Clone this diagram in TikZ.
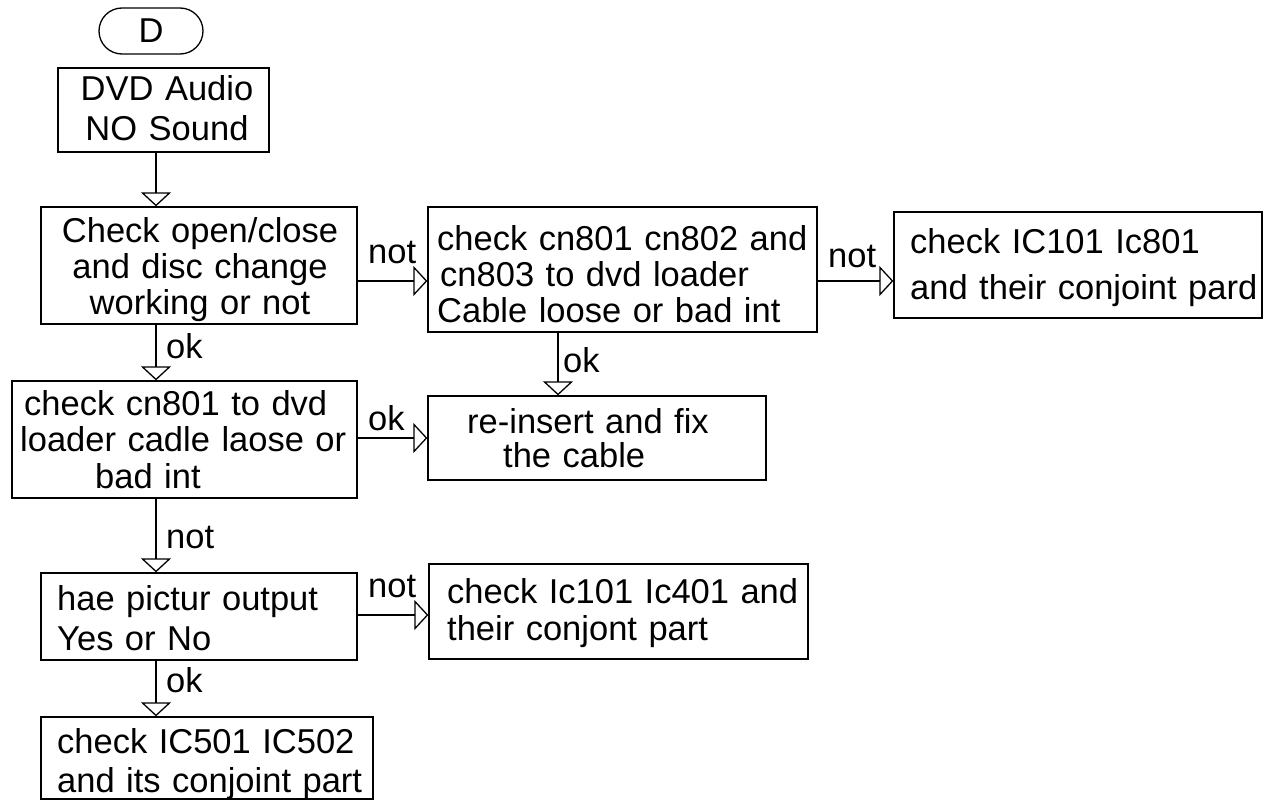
\documentclass[tikz,border=0pt]{standalone}
\usepackage{fontspec}
\setmainfont{Liberation Sans}
\usetikzlibrary{arrows.meta}
\begin{document}
\begin{tikzpicture}[x=1pt,y=-1pt,
  box/.style={draw, line width=1.3pt, inner sep=0pt},
  term/.style={draw, line width=1.3pt, inner sep=0pt, rounded corners=23pt},
  txt/.style={inner sep=0pt, anchor=base west, align=left, text width=#1},
  ctxt/.style={inner sep=0pt, anchor=base, align=center, text width=#1},
  lbl/.style={inner sep=0pt, anchor=base west},
  arr/.style={line width=1.3pt, -{Triangle[open,width=30pt,length=14pt,line width=1.3pt]}},
  font=\fontsize{34.5}{37}\selectfont]
\useasboundingbox (0,0) rectangle (1264,800);

% boxes
\node[term, minimum width=104pt, minimum height=46pt] (D) at (151,31) {D};
\node[box, minimum width=211pt, minimum height=84pt] (B1) at (163.5,110) {};
\node[box, minimum width=316pt, minimum height=117pt] (B2) at (199,265.5) {};
\node[box, minimum width=389pt, minimum height=125pt] (B3) at (622.5,269.5) {};
\node[box, minimum width=368pt, minimum height=106pt] (B9) at (1078,265) {};
\node[box, minimum width=345pt, minimum height=117pt] (B5) at (184.5,439.5) {};
\node[box, minimum width=338pt, minimum height=84pt] (B4) at (597,438) {};
\node[box, minimum width=316pt, minimum height=87pt] (B6) at (199,616.5) {};
\node[box, minimum width=379pt, minimum height=95pt] (B7) at (618.5,611.5) {};
\node[box, minimum width=332pt, minimum height=82pt] (B8) at (207,758) {};

% texts
\node[ctxt=200pt, font=\fontsize{34.5}{40}\selectfont] (T1) at (167,100) {DVD Audio\\NO Sound};
\node[ctxt=300pt, font=\fontsize{34.5}{36}\selectfont] (T2) at (200,242) {Check open/close\\and disc change\\working or not};
\node[txt=380pt, font=\fontsize{34.5}{36}\selectfont] (T3) at (437,250) {check cn801 cn802 and\\\hspace*{3pt}cn803 to dvd loader\\Cable loose or bad int};
\node[txt=360pt, font=\fontsize{34.5}{46}\selectfont] (T9) at (910,253) {check IC101 Ic801\\and their conjoint pard};
\node[txt=340pt, font=\fontsize{34.5}{36.5}\selectfont] (T5) at (20,415) {\hspace*{4pt}check cn801 to dvd\\loader cadle laose or\\\hspace*{75pt}bad int};
\node[txt=320pt, font=\fontsize{34.5}{34}\selectfont] (T4) at (467,433) {re-insert and fix\\\hspace*{36pt}the cable};
\node[txt=300pt, font=\fontsize{34.5}{40}\selectfont] (T6) at (57,610) {hae pictur output\\Yes or No};
\node[txt=360pt, font=\fontsize{34.5}{37}\selectfont] (T7) at (447,603) {check Ic101 Ic401 and\\their conjont part};
\node[txt=320pt, font=\fontsize{34.5}{39}\selectfont] (T8) at (57,753) {check IC501 IC502\\and its conjoint part};

% connector x positions
\coordinate (vx) at (156,0);
\coordinate (vx3) at (558,0);

% connectors
\draw[arr] (B1.south -| vx) -- (B2.north -| vx);
\draw[arr] ([yshift=-15.5pt]B2.east) -- ([yshift=-11.5pt]B3.west);
\draw[arr] ([yshift=-11.5pt]B3.east) -- ([yshift=-16pt]B9.west);
\draw[arr] (B3.south -| vx3) -- (B4.north -| vx3);
\draw[arr] (B2.south -| vx) -- (B5.north -| vx);
\draw[arr] ([yshift=1.5pt]B5.east) -- (B4.west);
\draw[arr] (B5.south -| vx) -- (B6.north -| vx);
\draw[arr] ([yshift=1.5pt]B6.east) -- ([yshift=-3.5pt]B7.west);
\draw[arr] (B6.south -| vx) -- (B8.north -| vx);

% labels
\node[lbl] (L1) at (368,263) {not};
\node[lbl] (L2) at (828,267) {not};
\node[lbl] (L3) at (563,372) {ok};
\node[lbl] (L4) at (368,430) {ok};
\node[lbl] (L5) at (166,358) {ok};
\node[lbl] (L6) at (166,548) {not};
\node[lbl] (L7) at (368,597) {not};
\node[lbl] (L8) at (166,692) {ok};
\end{tikzpicture}
\end{document}
